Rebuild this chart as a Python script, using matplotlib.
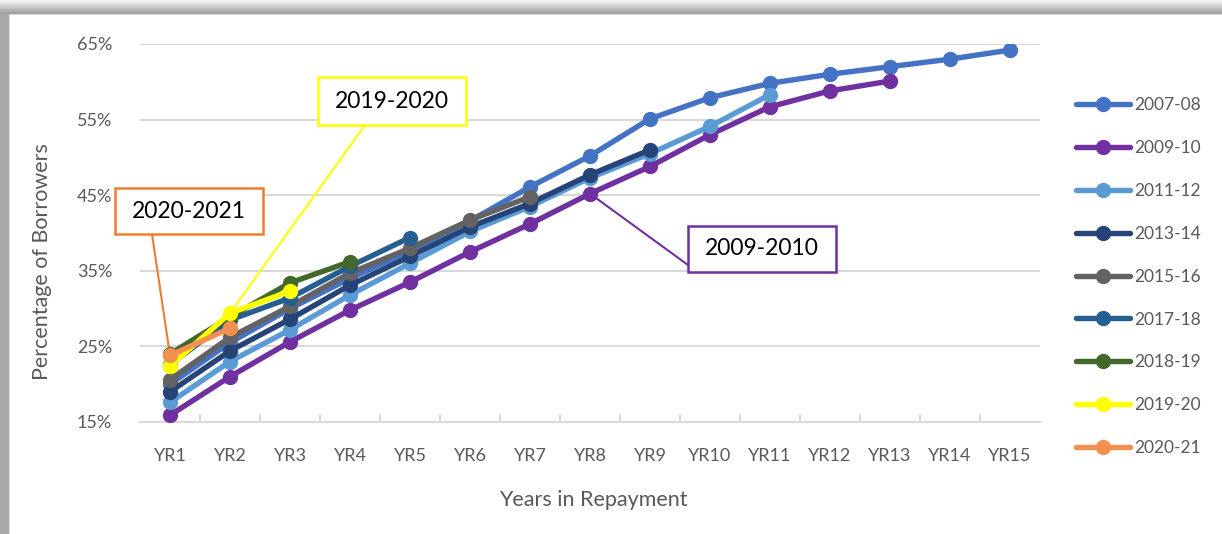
import numpy as np
import matplotlib
matplotlib.use("Agg")
import matplotlib.pyplot as plt
from matplotlib.lines import Line2D
from matplotlib.patches import Rectangle

plt.rcParams["font.family"] = ["Lato", "DejaVu Sans"]

years = ["YR1", "YR2", "YR3", "YR4", "YR5", "YR6", "YR7", "YR8",
         "YR9", "YR10", "YR11", "YR12", "YR13", "YR14", "YR15"]

cohorts = ["2007-08", "2009-10", "2011-12", "2013-14", "2015-16",
           "2017-18", "2018-19", "2019-20", "2020-21"]

# percent of borrowers
v0708 = [20.0, 25.5, 30.0, 34.0, 37.6, 41.6, 46.1, 50.2, 55.1, 57.9, 59.8, 61.0, 62.0, 63.0, 64.2]
v0910 = [15.9, 21.0, 25.6, 29.8, 33.5, 37.5, 41.2, 45.2, 48.8, 53.0, 56.7, 58.8, 60.1]
v1112 = [17.6, 23.0, 27.2, 31.8, 36.0, 40.2, 43.5, 47.3, 50.5, 54.1, 58.3]
v1314 = [19.0, 24.4, 28.6, 33.1, 36.9, 40.8, 43.9, 47.7, 51.0]
v1516 = [20.6, 26.2, 30.3, 34.7, 38.0, 41.7, 44.8]
v1718 = [22.6, 28.5, 31.4, 35.6, 39.4]
v1819 = [24.0, 28.9, 33.4, 36.2]
v1920 = [22.4, 29.4, 32.3]
v2021 = [23.8, 27.4]

series = [v0708, v0910, v1112, v1314, v1516, v1718, v1819, v1920, v2021]
colors = ["#4472C4", "#7030A0", "#5B9BD5", "#264478", "#636363",
          "#255E91", "#43682B", "#FFFF00", "#F4904F"]

W, H = 1222, 534
fig = plt.figure(figsize=(W / 100, H / 100), dpi=100)

# shadowed frame behind the chart
bg = np.ones((H, W, 3))
for r in range(14):
    bg[r, :, :] = 0.96 - 0.34 * r / 13
bg[14, :, :] = 0.86
bg[14:, :9, :] = 0.66
bg[14:, 9, :] = 0.86
bgax = fig.add_axes([0, 0, 1, 1], zorder=-10)
bgax.imshow(bg, aspect="auto", interpolation="nearest")
bgax.axis("off")

left, right, top, bottom = 140, 1040, 44, 422
ax = fig.add_axes([left / W, 1 - bottom / H, (right - left) / W, (bottom - top) / H])
ax.set_facecolor("none")

x = np.arange(1, len(years) + 1)
for i, (vals, c) in enumerate(zip(series, colors)):
    ax.plot(x[:len(vals)], vals, color=c, lw=3.9, marker="o", ms=10,
            solid_capstyle="round", zorder=3 + i)

ax.set_xlim(0.5, 15.5)
ax.set_ylim(15, 65)
ax.set_yticks([15, 25, 35, 45, 55, 65])
ax.set_yticklabels(["15%", "25%", "35%", "45%", "55%", "65%"])
ax.set_xticks(x)
ax.set_xticklabels(years)
ax.set_xticks(np.arange(1.5, 15.5, 1), minor=True)
ax.tick_params(axis="x", which="major", length=0, pad=19, labelsize=13, labelcolor="#595959")
ax.tick_params(axis="x", which="minor", direction="in", length=6, color="#d9d9d9", width=1.5)
ax.tick_params(axis="y", length=0, pad=20, labelsize=13, labelcolor="#595959")
ax.grid(axis="y", color="#d9d9d9", lw=1.5)
ax.set_axisbelow(True)
for s in ["top", "right", "left"]:
    ax.spines[s].set_visible(False)
ax.spines["bottom"].set_color("#d9d9d9")
ax.spines["bottom"].set_linewidth(1.5)

fig.text(42 / W, 1 - 262 / H, "Percentage of Borrowers", rotation=90,
         ha="center", va="center", fontsize=15.5, color="#595959")
fig.text(593 / W, 1 - 500 / H, "Years in Repayment",
         ha="center", va="center", fontsize=15.5, color="#595959")

handles = [Line2D([0], [0], color=c, lw=3.9, marker="o", ms=10, solid_capstyle="round")
           for c in colors]
fig.legend(handles, cohorts, loc="upper left", bbox_to_anchor=(1076 / W, 1 - 97 / H),
           frameon=False, fontsize=12.5, labelcolor="#595959", handlelength=3.1,
           handletextpad=0.25, labelspacing=1.55, borderpad=0, borderaxespad=0)

# callout boxes
callouts = [
    ("2019-2020", "#FFFF00", (318, 77, 466, 125), (365, 125), (2, v1920[1])),
    ("2020-2021", "#ED7D31", (115, 188, 263, 234), (152, 234), (1, v2021[0])),
    ("2009-2010", "#7030A0", (688, 226, 836, 272), (688, 265), (8, v0910[7])),
]
for label, ec, (x0, y0, x1, y1), start, pt in callouts:
    fig.patches.append(Rectangle((x0 / W, 1 - y1 / H), (x1 - x0) / W, (y1 - y0) / H,
                                 transform=fig.transFigure, facecolor="white",
                                 edgecolor=ec, lw=1.8, zorder=20))
    fig.text((x0 + x1) / 2 / W, 1 - (y0 + y1) / 2 / H, label, ha="center", va="center",
             fontsize=16.5, color="black", zorder=21)
    ax.annotate("", xy=pt, xycoords="data",
                xytext=(start[0] / W, 1 - start[1] / H), textcoords="figure fraction",
                arrowprops=dict(arrowstyle="-", color=ec, lw=1.5, shrinkA=0, shrinkB=0),
                zorder=2)

fig.savefig("out.png", dpi=100)
